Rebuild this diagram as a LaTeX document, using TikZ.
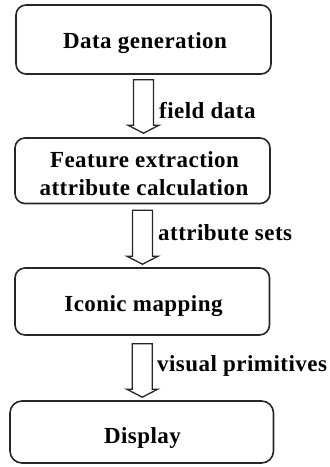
\documentclass[tikz,border=0pt]{standalone}
\usepackage{fontspec}
\setmainfont{Liberation Serif}[LetterSpace=2]
\usetikzlibrary{calc}

\tikzset{
  stage/.style={draw=black!85, line width=1.6pt, rounded corners=10pt,
                inner sep=0pt},
  title/.style={font=\fontsize{23}{26}\selectfont\bfseries, inner sep=0pt,
                anchor=base},
  flowlabel/.style={font=\fontsize{23}{26}\selectfont\bfseries, inner sep=0pt,
                anchor=base west},
  hollow/.style={draw=black!85, line width=1.3pt, fill=white, line join=miter}
}

% hollow block arrow from the bottom of #1 to the top of #2
\newcommand\blockarrow[4]{%
  \draw[hollow] let \p1=($(#1.south)+(0,#3)$), \p2=($(#2.north)+(0,-#4)$) in
    (\x1-10pt,\y1) -- (\x1+10pt,\y1) -- (\x1+10pt,\y2+8pt) -- (\x1+15.5pt,\y2+8pt)
    -- (\x1,\y2) -- (\x1-15.5pt,\y2+8pt) -- (\x1-10pt,\y2+8pt) -- cycle;}

\begin{document}
\begin{tikzpicture}[x=1pt,y=-1pt]
\useasboundingbox (0,0) rectangle (330,467);

% processing stages
\node[stage, minimum width=255pt, minimum height=69pt] (b1) at (143.5,39.5) {};
\node[stage, minimum width=255pt, minimum height=65.5pt] (b2) at (142.5,170.75) {};
\node[stage, minimum width=254.5pt, minimum height=67pt] (b3) at (142.25,301.5) {};
\node[stage, minimum width=263.5pt, minimum height=62pt, rounded corners=12pt] (b4) at (141.75,432) {};

\node[title] (t1) at (145,48) {Data generation};
\node[title] (t2a) at (144.5,167.5) {Feature extraction};
\node[title] (t2b) at (144,195) {attribute calculation};
\node[title] (t3) at (143.5,311) {Iconic mapping};
\node[title] (t4) at (142.5,443) {Display};

% data flow between stages
\blockarrow{b1}{b2}{5}{4}
\blockarrow{b2}{b3}{6}{3}
\blockarrow{b3}{b4}{8}{3}

\node[flowlabel] (l1) at (159,118) {field data};
\node[flowlabel] (l2) at (158,240) {attribute sets};
\node[flowlabel] (l3) at (157,371.5) {visual primitives};
\end{tikzpicture}
\end{document}
